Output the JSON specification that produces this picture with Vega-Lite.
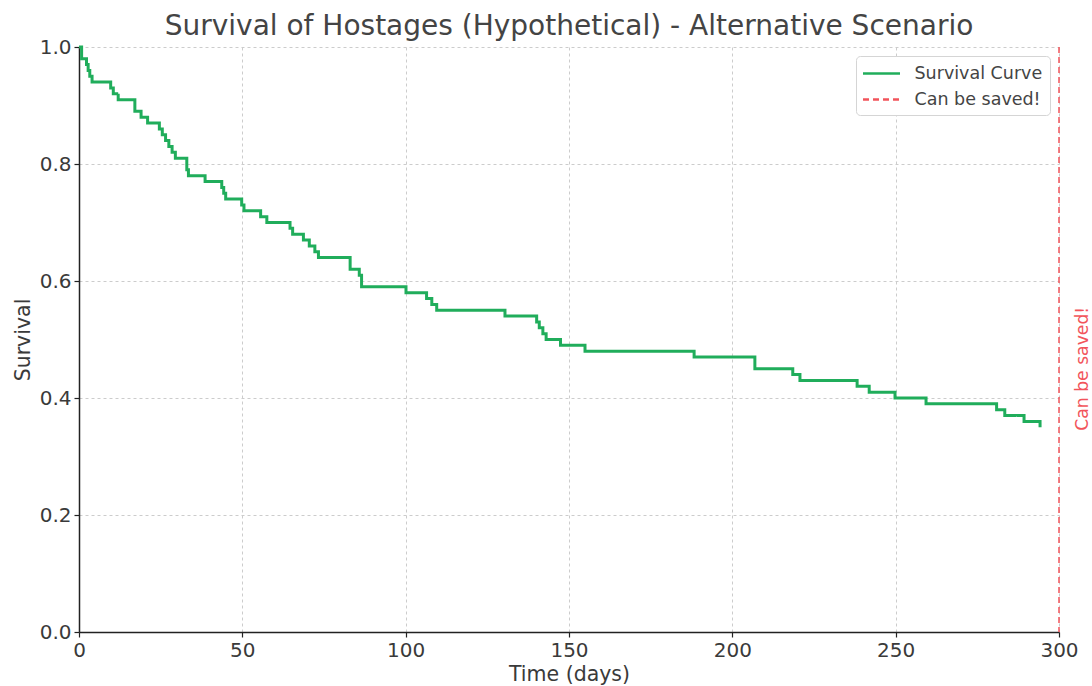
{
  "$schema": "https://vega.github.io/schema/vega-lite/v6.json",
  "autosize": "none",
  "width": 980,
  "height": 585,
  "padding": {"left": 79, "top": 47, "right": 33, "bottom": 54},
  "background": "white",
  "title": {"text": "Survival of Hostages (Hypothetical) - Alternative Scenario", "font": "DejaVu Sans", "fontSize": 28, "fontWeight": "normal", "color": "#444444", "offset": -4},
  "config": {
    "view": {"stroke": null},
    "font": "DejaVu Sans",
    "axis": {
      "labelFont": "DejaVu Sans", "labelFontSize": 20, "labelColor": "#3a3a3a", "labelFlush": false,
      "titleFont": "DejaVu Sans", "titleFontSize": 20.5, "titleFontWeight": "normal", "titleColor": "#3a3a3a",
      "domainColor": "#222222", "domainWidth": 1.5, "tickColor": "#222222", "tickSize": 5, "tickWidth": 1.2,
      "gridColor": "#cccccc", "gridDash": [3, 3], "gridWidth": 1, "labelPadding": 3
    },
    "legend": {
      "orient": "top-right", "offset": 9, "padding": 7, "fillColor": "white", "strokeColor": "#d5d5d5", "cornerRadius": 4,
      "labelFont": "DejaVu Sans", "labelFontSize": 17.5, "labelColor": "#444444", "rowPadding": 7, "labelOffset": 22.5, "symbolOffset": 8,
      "symbolType": "M-2,0H2", "symbolSize": 342, "symbolStrokeWidth": 2.5
    }
  },
  "layer": [
    {
      "data": {"values": [
        {"t": 0, "s": 1.0}, {"t": 0.8, "s": 0.98}, {"t": 2.3, "s": 0.97}, {"t": 2.8, "s": 0.96}, {"t": 3.3, "s": 0.95}, {"t": 4.0, "s": 0.94},
        {"t": 9.7, "s": 0.93}, {"t": 10.5, "s": 0.92}, {"t": 12.0, "s": 0.91}, {"t": 17.1, "s": 0.89}, {"t": 19.0, "s": 0.88}, {"t": 21.0, "s": 0.87},
        {"t": 24.6, "s": 0.86}, {"t": 25.5, "s": 0.85}, {"t": 26.5, "s": 0.84}, {"t": 27.5, "s": 0.83}, {"t": 28.5, "s": 0.82}, {"t": 29.5, "s": 0.81},
        {"t": 33.0, "s": 0.79}, {"t": 33.5, "s": 0.78}, {"t": 38.6, "s": 0.77}, {"t": 43.7, "s": 0.76}, {"t": 44.3, "s": 0.75}, {"t": 44.9, "s": 0.74},
        {"t": 49.8, "s": 0.73}, {"t": 50.5, "s": 0.72}, {"t": 55.6, "s": 0.71}, {"t": 57.5, "s": 0.70}, {"t": 64.6, "s": 0.69}, {"t": 65.4, "s": 0.68},
        {"t": 68.7, "s": 0.67}, {"t": 70.5, "s": 0.66}, {"t": 72.2, "s": 0.65}, {"t": 73.3, "s": 0.64}, {"t": 83.0, "s": 0.62}, {"t": 85.8, "s": 0.61},
        {"t": 86.5, "s": 0.59}, {"t": 100.1, "s": 0.58}, {"t": 106.4, "s": 0.57}, {"t": 108.0, "s": 0.56}, {"t": 109.5, "s": 0.55}, {"t": 130.4, "s": 0.54},
        {"t": 140.1, "s": 0.53}, {"t": 140.9, "s": 0.52}, {"t": 142.0, "s": 0.51}, {"t": 143.0, "s": 0.50}, {"t": 147.4, "s": 0.49}, {"t": 154.9, "s": 0.48},
        {"t": 188.3, "s": 0.47}, {"t": 206.9, "s": 0.45}, {"t": 218.5, "s": 0.44}, {"t": 220.7, "s": 0.43}, {"t": 238.2, "s": 0.42}, {"t": 241.9, "s": 0.41},
        {"t": 249.8, "s": 0.40}, {"t": 259.3, "s": 0.39}, {"t": 280.9, "s": 0.38}, {"t": 283.4, "s": 0.37}, {"t": 289.3, "s": 0.36}, {"t": 294.2, "s": 0.35}
      ]},
      "transform": [{"calculate": "'Survival Curve'", "as": "series"}],
      "mark": {"type": "line", "interpolate": "step-after", "strokeWidth": 3},
      "encoding": {
        "x": {"field": "t", "type": "quantitative", "scale": {"domain": [0, 300], "nice": false}, "axis": {"title": "Time (days)", "values": [0, 50, 100, 150, 200, 250, 300], "titlePadding": 4}},
        "y": {"field": "s", "type": "quantitative", "scale": {"domain": [0, 1], "nice": false}, "axis": {"title": "Survival", "values": [0, 0.2, 0.4, 0.6, 0.8, 1.0], "format": ".1f", "titlePadding": 6}},
        "color": {"field": "series", "type": "nominal", "scale": {"domain": ["Survival Curve", "Can be saved!"], "range": ["#20ad5b", "#f2545b"]}, "legend": {"title": null}},
        "strokeDash": {"field": "series", "type": "nominal", "scale": {"domain": ["Survival Curve", "Can be saved!"], "range": [[1, 0], [6, 4]]}, "legend": {"title": null}}
      }
    },
    {
      "data": {"values": [{"t": 300, "series": "Can be saved!"}]},
      "mark": {"type": "rule", "strokeWidth": 1.5},
      "encoding": {
        "x": {"field": "t", "type": "quantitative"},
        "color": {"field": "series", "type": "nominal"},
        "strokeDash": {"field": "series", "type": "nominal"}
      }
    },
    {
      "data": {"values": [{"t": 300, "s": 0.45, "label": "Can be saved!"}]},
      "mark": {"type": "text", "angle": 270, "align": "center", "baseline": "middle", "dy": 24, "fontSize": 17.2, "color": "#f2545b", "font": "DejaVu Sans"},
      "encoding": {
        "x": {"field": "t", "type": "quantitative"},
        "y": {"field": "s", "type": "quantitative"},
        "text": {"field": "label"}
      }
    }
  ]
}
